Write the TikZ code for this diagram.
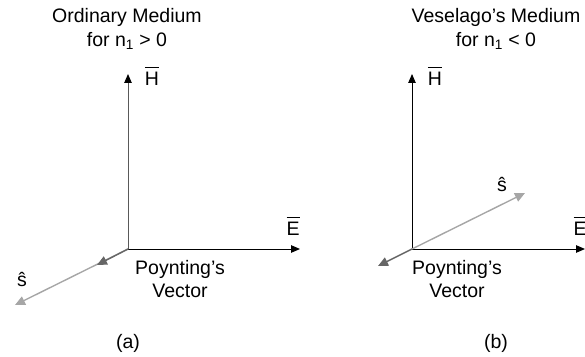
\documentclass[tikz,border=0pt]{standalone}
\usepackage{fontspec}
\setmainfont{Liberation Sans}
\usetikzlibrary{arrows.meta, positioning, calc}
\newcommand{\barvec}[1]{$\overline{\mbox{#1\rule{0pt}{0.84em}}}$}

\begin{document}
\begin{tikzpicture}[x=1pt, y=1pt, font=\fontsize{19.5}{23.5}\selectfont,
    >={Triangle[length=9pt, width=7.5pt]},
    axis/.style={->, line width=1pt, draw=black},
    haxis/.style={line width=1pt, draw=black!65, -{Triangle[length=9pt, width=7.5pt, color=black]}},
    slight/.style={-{Triangle[length=10pt, width=9pt]}, line width=1.4pt, draw=black!35},
    sdark/.style={-{Triangle[length=10pt, width=9pt]}, line width=1.4pt, draw=black!60},
    lbl/.style={inner sep=1pt}]
  \useasboundingbox (0,0) rectangle (585,356);

  % (a) ordinary medium
  \node [align=center] (titleA) at (127,327) {Ordinary Medium\\for n\textsubscript{1} > 0};
  \coordinate (oA) at (128,107);
  \coordinate (hA) at (128,282);
  \coordinate (eA) at (300,107);
  \coordinate (sA) at (15,51);
  \coordinate (pA) at (97,91);
  \node [lbl] (hlabA) at (152,280) {\barvec{H}};
  \node [lbl] (elabA) at (293,130) {\barvec{E}};
  \node [lbl] (slabA) at (22,77) {\^{s}};
  \node [align=center, lbl] (poyA) at (180,77) {Poynting's\\Vector};
  \node (capA) at (128,13) {(a)};

  \draw [haxis] (oA) -- (hA);
  \draw [axis] (oA) -- (eA);
  \draw [slight] (oA) -- (sA);
  \draw [sdark] (oA) -- (pA);

  % (b) Veselago's medium
  \node [align=center] (titleB) at (496,327) {Veselago's Medium\\for n\textsubscript{1} < 0};
  \coordinate (oB) at (412,107);
  \coordinate (hB) at (412,282);
  \coordinate (eB) at (585,107);
  \coordinate (sB) at (525,163);
  \coordinate (pB) at (378,90);
  \node [lbl] (hlabB) at (435,280) {\barvec{H}};
  \node [lbl] (elabB) at (580,130) {\barvec{E}};
  \node [lbl] (slabB) at (502,172) {\^{s}};
  \node [align=center, lbl] (poyB) at (457,77) {Poynting's\\Vector};
  \node (capB) at (496,13) {(b)};

  \draw [axis] (oB) -- (hB);
  \draw [axis] (oB) -- (eB);
  \draw [slight] (oB) -- (sB);
  \draw [sdark] (oB) -- (pB);
\end{tikzpicture}
\end{document}
